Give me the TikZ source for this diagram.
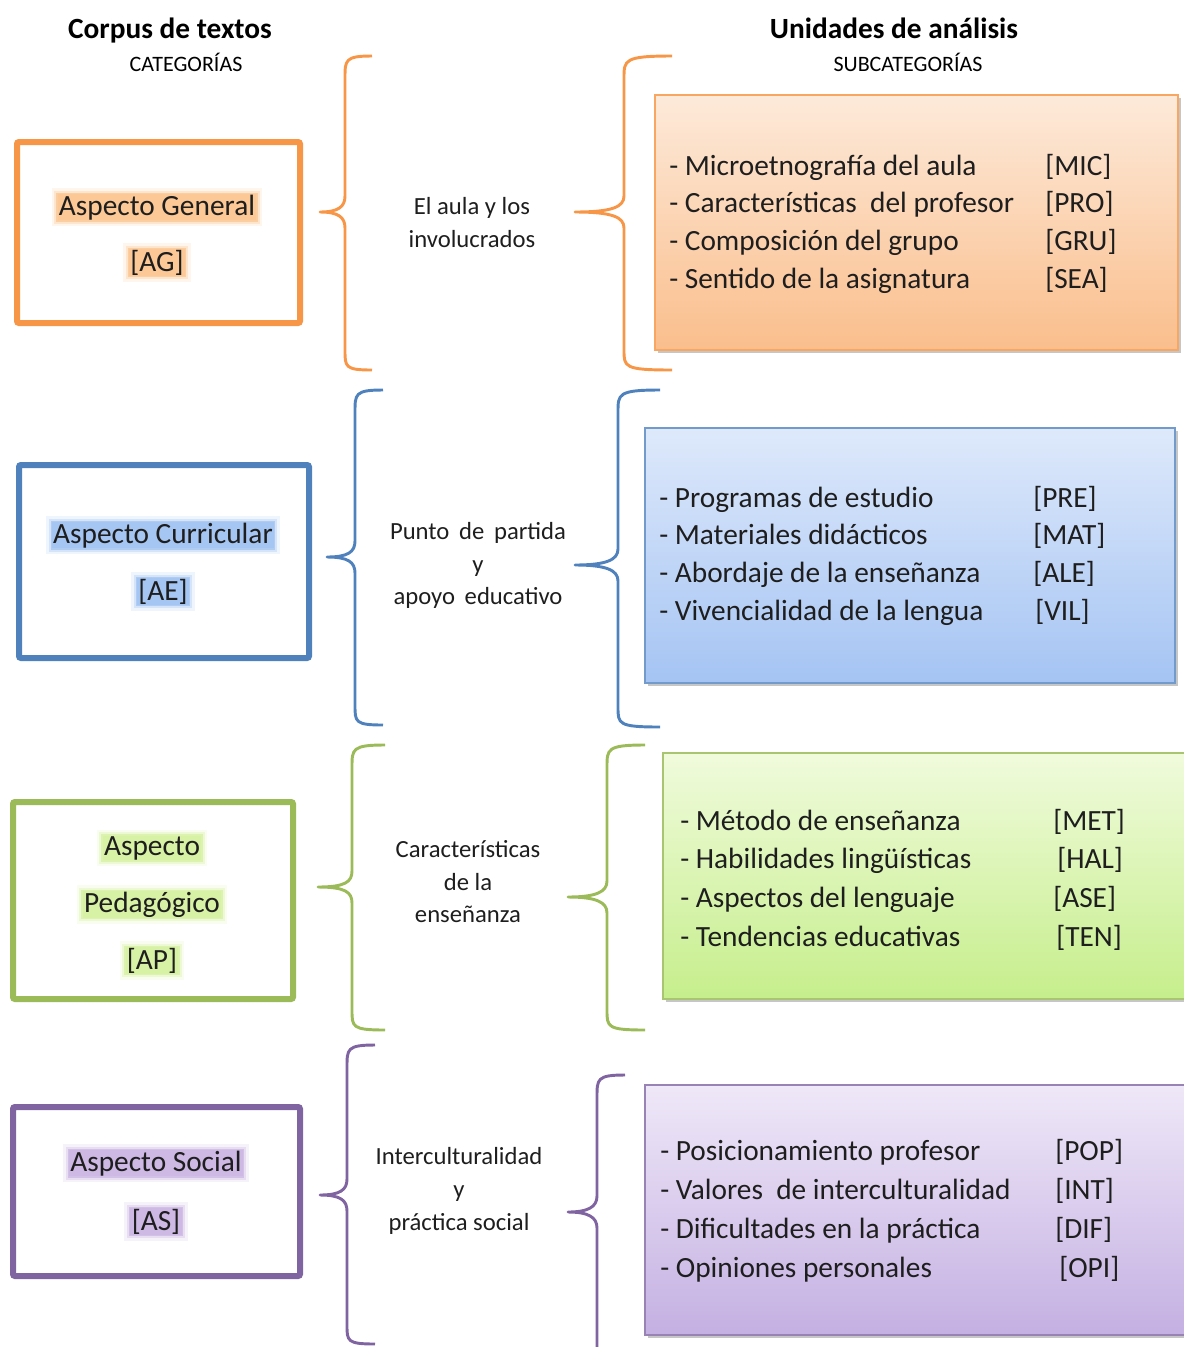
\documentclass[tikz,border=0pt]{standalone}
\usepackage{fontspec}
\setmainfont{Carlito}
\usepackage{tikz}
\usetikzlibrary{shadows}

\definecolor{naranja}{RGB}{247,150,70}
\definecolor{azul}{RGB}{79,129,189}
\definecolor{verde}{RGB}{155,187,89}
\definecolor{morado}{RGB}{128,100,162}
\definecolor{texto}{RGB}{30,30,30}
\definecolor{brillonar}{RGB}{251,200,150}
\definecolor{brilloazu}{RGB}{165,198,242}
\definecolor{brilloved}{RGB}{216,242,165}
\definecolor{brillomor}{RGB}{205,185,228}

\begin{document}
\begin{tikzpicture}[x=0.75pt,y=0.75pt,yscale=-1,xscale=1,
  caja/.style={line width=4.5pt,rounded corners=1.5pt},
  llave/.style={line width=2.2pt,line join=round},
  subcaja/.style={line width=1.1pt,drop shadow={shadow xshift=2pt,shadow yshift=-2.5pt,opacity=.45}},
  rotulo/.style={anchor=base,inner xsep=1pt,inner ysep=0.5pt,text=texto,font=\fontsize{22}{26}\selectfont,
    preaction={draw=#1,line width=9pt,draw opacity=.18,rounded corners=7pt},
    preaction={draw=#1,line width=5pt,draw opacity=.35,rounded corners=6pt},
    preaction={fill=#1,draw=#1,line width=2pt,draw opacity=.8,rounded corners=5pt}},
  medio/.style={anchor=base,inner sep=0pt,text=texto,font=\fontsize{18.5}{22}\selectfont},
  item/.style={anchor=base west,inner sep=0pt,text=texto,font=\fontsize{22}{26}\selectfont}]
\path[use as bounding box] (0,0) rectangle (1183,1347);

% Titles
\node[anchor=base,inner sep=0pt,font=\fontsize{22}{26}\selectfont\bfseries] (corpus) at (170,38) {Corpus de textos};
\node[anchor=base,inner sep=0pt,font=\fontsize{16.5}{20}\selectfont] (categ) at (186,71) {CATEGORÍAS};
\node[anchor=base,inner sep=0pt,font=\fontsize{22}{26}\selectfont\bfseries] (unidades) at (894,38) {Unidades de análisis};
\node[anchor=base,inner sep=0pt,font=\fontsize{16.5}{20}\selectfont] (subcateg) at (908,71) {SUBCATEGORÍAS};

%Left boxes
\draw[caja,naranja] (17,142) rectangle (300,323);
\draw[caja,azul] (19,465) rectangle (309,658);
\draw[caja,verde] (13,802) rectangle (293,999);
\draw[caja,morado] (13,1107) rectangle (300,1276);

% Text Node
\node[rotulo=brillonar] (ag1) at (157,215) {Aspecto General};
\node[rotulo=brillonar] (ag2) at (157,271) {[AG]};
\node[rotulo=brilloazu] (ae1) at (163,543) {Aspecto Curricular};
\node[rotulo=brilloazu] (ae2) at (163,600) {[AE]};
\node[rotulo=brilloved] (ap1) at (152,855) {Aspecto};
\node[rotulo=brilloved] (ap2) at (152,912) {Pedagógico};
\node[rotulo=brilloved] (ap3) at (152,969) {[AP]};
\node[rotulo=brillomor] (as1) at (156,1171) {Aspecto Social};
\node[rotulo=brillomor] (as2) at (156,1230) {[AS]};

%Left braces
\draw[llave,naranja] (372,56) .. controls (345,56) and (345,60) .. (345,78) -- (345,196) .. controls (345,207) and (338,212) .. (320,212) .. controls (338,212) and (345,217) .. (345,228) -- (345,350) .. controls (345,367) and (345,370) .. (372,370);
\draw[llave,azul] (383,390) .. controls (355,390) and (355,394) .. (355,412) -- (355,541) .. controls (355,552) and (348,557) .. (327,557) .. controls (348,557) and (355,562) .. (355,573) -- (355,705) .. controls (355,722) and (355,725) .. (383,725);
\draw[llave,verde] (385,745) .. controls (352,745) and (352,749) .. (352,767) -- (352,871) .. controls (352,882) and (345,887) .. (318,887) .. controls (345,887) and (352,892) .. (352,903) -- (352,1010) .. controls (352,1027) and (352,1030) .. (385,1030);
\draw[llave,morado] (375,1045) .. controls (347,1045) and (347,1049) .. (347,1067) -- (347,1179) .. controls (347,1190) and (340,1195) .. (320,1195) .. controls (340,1195) and (347,1200) .. (347,1211) -- (347,1325) .. controls (347,1341) and (347,1344) .. (375,1344);

% Text Node
\node[medio] (m1a) at (472,214) {El aula y los};
\node[medio] (m1b) at (472,247) {involucrados};
\node[medio] (m2a) at (478,539) {Punto\, de\, partida};
\node[medio] (m2b) at (478,572) {y};
\node[medio] (m2c) at (478,604) {apoyo\, educativo};
\node[medio] (m3a) at (468,857) {Características};
\node[medio] (m3b) at (468,890) {de la};
\node[medio] (m3c) at (468,922) {enseñanza};
\node[medio] (m4a) at (459,1164) {Interculturalidad};
\node[medio] (m4b) at (459,1197) {y};
\node[medio] (m4c) at (459,1230) {práctica social};

%Right braces
\draw[llave,naranja] (672,56) .. controls (624,56) and (624,60) .. (624,78) -- (624,196) .. controls (624,207) and (612,212) .. (575,212) .. controls (612,212) and (624,217) .. (624,228) -- (624,350) .. controls (624,367) and (624,370) .. (672,370);
\draw[llave,azul] (660,390) .. controls (618,390) and (618,394) .. (618,412) -- (618,549) .. controls (618,560) and (606,565) .. (575,565) .. controls (606,565) and (618,570) .. (618,581) -- (618,707) .. controls (618,724) and (618,727) .. (660,727);
\draw[llave,verde] (645,745) .. controls (607,745) and (607,749) .. (607,767) -- (607,881) .. controls (607,892) and (596,897) .. (568,897) .. controls (596,897) and (607,902) .. (607,913) -- (607,1010) .. controls (607,1027) and (607,1030) .. (645,1030);
\draw[llave,morado] (625,1075) .. controls (597,1075) and (597,1079) .. (597,1097) -- (597,1196) .. controls (597,1207) and (588,1212) .. (568,1212) .. controls (588,1212) and (597,1217) .. (597,1228) -- (597,1360);

%Right boxes
\draw[subcaja,draw=naranja!85,top color={rgb,255:red,253;green,234;blue,218},bottom color={rgb,255:red,250;green,190;blue,140}] (655,95) rectangle (1178,350);
\draw[subcaja,draw=azul!80,top color={rgb,255:red,222;green,233;blue,251},bottom color={rgb,255:red,165;green,196;blue,243}] (645,428) rectangle (1175,683);
\draw[subcaja,draw=verde!85,top color={rgb,255:red,240;green,251;blue,220},bottom color={rgb,255:red,198;green,238;blue,140}] (663,753) rectangle (1195,999);
\draw[subcaja,draw=morado!80,top color={rgb,255:red,239;green,232;blue,248},bottom color={rgb,255:red,196;green,176;blue,226}] (645,1085) rectangle (1195,1335);

% Text Node
\foreach \txt/\cod/\cx [count=\i] in {{- Microetnografía del aula}/{[MIC]}/1045, {- Características\ \ del profesor}/{[PRO]}/1045, {- Composición del grupo}/{[GRU]}/1045, {- Sentido de la asignatura}/{[SEA]}/1045}
  {\node[item] (mic\i) at (669,{175+(\i-1)*37.7}) {\txt};
   \node[item] (micc\i) at (\cx,{175+(\i-1)*37.7}) {\cod};}
\foreach \txt/\cod/\cx [count=\i] in {{- Programas de estudio}/{[PRE]}/1033, {- Materiales didácticos}/{[MAT]}/1033, {- Abordaje de la enseñanza}/{[ALE]}/1033, {- Vivencialidad de la lengua}/{[VIL]}/1035}
  {\node[item] (pre\i) at (659,{507+(\i-1)*37.7}) {\txt};
   \node[item] (prec\i) at (\cx,{507+(\i-1)*37.7}) {\cod};}
\foreach \txt/\cod/\cx [count=\i] in {{- Método de enseñanza}/{[MET]}/1053, {- Habilidades lingüísticas}/{[HAL]}/1057, {- Aspectos del lenguaje}/{[ASE]}/1053, {- Tendencias educativas}/{[TEN]}/1056}
  {\node[item] (met\i) at (680,{830+(\i-1)*38.7}) {\txt};
   \node[item] (metc\i) at (\cx,{830+(\i-1)*38.7}) {\cod};}
\foreach \txt/\cod/\cx [count=\i] in {{- Posicionamiento profesor}/{[POP]}/1055, {- Valores\ \ de interculturalidad}/{[INT]}/1055, {- Dificultades en la práctica}/{[DIF]}/1055, {- Opiniones personales}/{[OPI]}/1059}
  {\node[item] (pop\i) at (660,{1160+(\i-1)*39}) {\txt};
   \node[item] (popc\i) at (\cx,{1160+(\i-1)*39}) {\cod};}

\end{tikzpicture}
\end{document}
